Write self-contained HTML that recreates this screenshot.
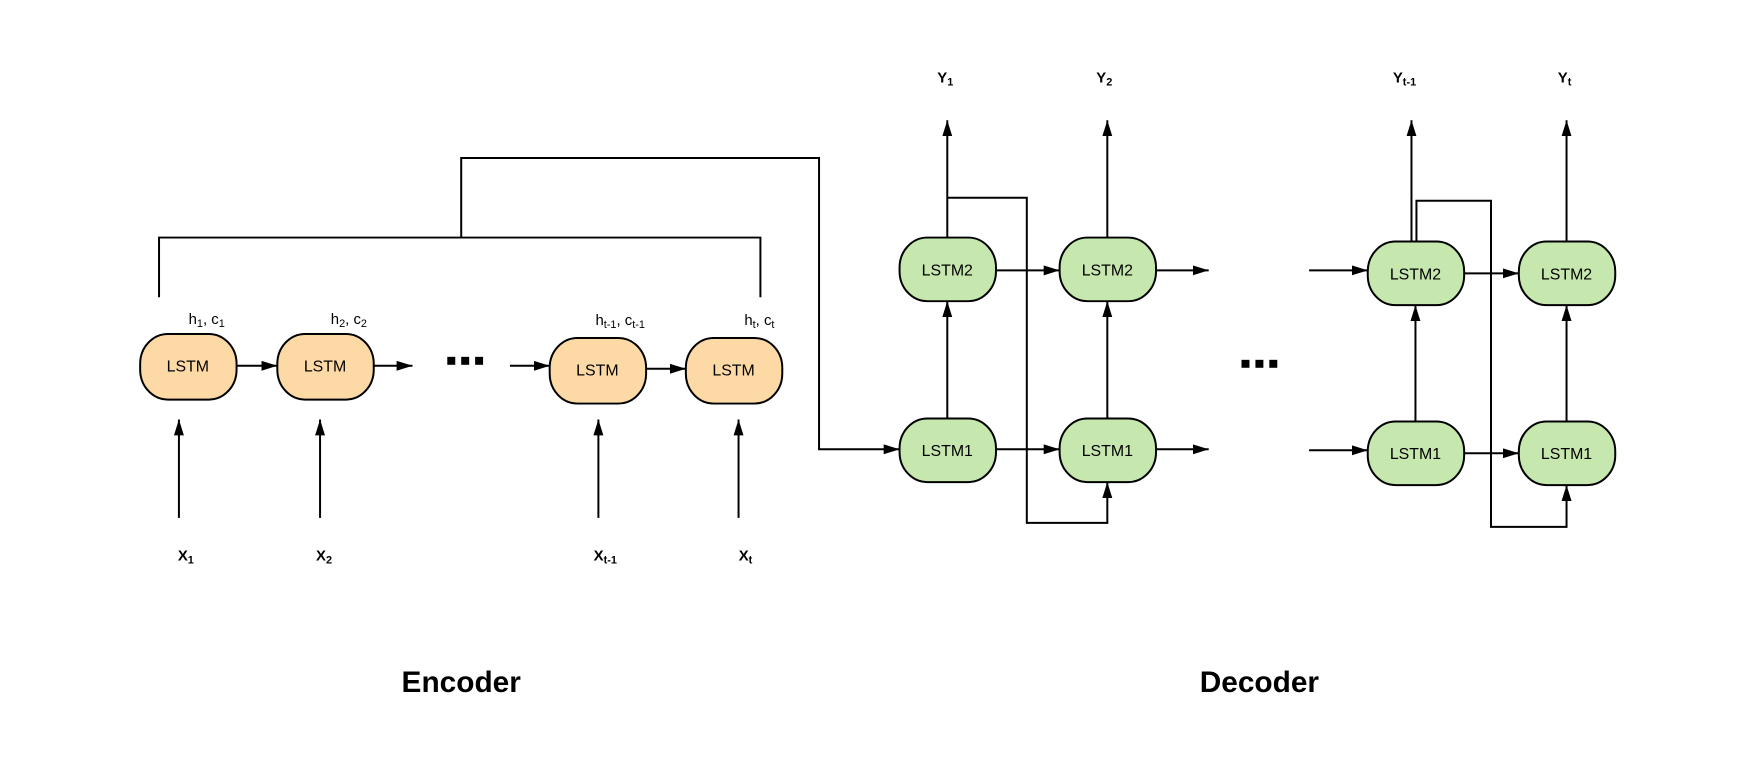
<!DOCTYPE html>
<html><head><meta charset="utf-8"><style>
body{margin:0;background:#fff}
svg{display:block}
text{font-family:"Liberation Sans",sans-serif;fill:#000}
.box text{font-size:16px}
</style></head><body>
<svg width="1760" height="762" viewBox="0 0 1760 762">
<defs>
<marker id="a" viewBox="0 0 16 10" markerWidth="16" markerHeight="10" refX="16" refY="5" orient="auto" markerUnits="userSpaceOnUse"><path d="M0,0 L16,5 L0,10 z" fill="#000"/></marker></defs>
<g transform="scale(0.994)">
<g stroke="#000" stroke-width="2" fill="none">
<g>
<rect x="141" y="336" width="97" height="66" rx="28" ry="30" fill="#fdd9a6"/>
<rect x="279" y="336" width="97" height="66" rx="28" ry="30" fill="#fdd9a6"/>
<rect x="553" y="340" width="97" height="66" rx="28" ry="30" fill="#fdd9a6"/>
<rect x="690" y="340" width="97" height="66" rx="28" ry="30" fill="#fdd9a6"/>
</g>
<g>
<rect x="905" y="239" width="97" height="64" rx="28" ry="30" fill="#c6e7ad"/>
<rect x="1066" y="239" width="97" height="64" rx="28" ry="30" fill="#c6e7ad"/>
<rect x="1376" y="243" width="97" height="64" rx="28" ry="30" fill="#c6e7ad"/>
<rect x="1528" y="243" width="97" height="64" rx="28" ry="30" fill="#c6e7ad"/>
<rect x="905" y="421" width="97" height="64" rx="28" ry="30" fill="#c6e7ad"/>
<rect x="1066" y="421" width="97" height="64" rx="28" ry="30" fill="#c6e7ad"/>
<rect x="1376" y="424" width="97" height="64" rx="28" ry="30" fill="#c6e7ad"/>
<rect x="1528" y="424" width="97" height="64" rx="28" ry="30" fill="#c6e7ad"/>
</g>
<g marker-end="url(#a)">
<line x1="238" y1="368" x2="279" y2="368"/>
<line x1="376" y1="368" x2="415" y2="368"/>
<line x1="513" y1="368" x2="553" y2="368"/>
<line x1="650" y1="371" x2="690" y2="371"/>
<line x1="180" y1="521" x2="180" y2="422"/>
<line x1="322" y1="521" x2="322" y2="422"/>
<line x1="602" y1="521" x2="602" y2="422"/>
<line x1="743" y1="521" x2="743" y2="422"/>
<polyline points="464,239 464,159 824,159 824,452 905,452"/>
<line x1="953" y1="239" x2="953" y2="121"/>
<line x1="1114" y1="239" x2="1114" y2="121"/>
<line x1="1420" y1="243" x2="1420" y2="121"/>
<line x1="1576" y1="243" x2="1576" y2="121"/>
<line x1="953" y1="421" x2="953" y2="303"/>
<line x1="1114" y1="421" x2="1114" y2="303"/>
<line x1="1424" y1="424" x2="1424" y2="307"/>
<line x1="1576" y1="424" x2="1576" y2="307"/>
<polyline points="953,199 1033,199 1033,526 1114,526 1114,485"/>
<polyline points="1425,243 1425,202 1500,202 1500,530 1576,530 1576,488"/>
<line x1="1002" y1="272" x2="1066" y2="272"/>
<line x1="1002" y1="452" x2="1066" y2="452"/>
<line x1="1163" y1="272" x2="1216" y2="272"/>
<line x1="1163" y1="452" x2="1216" y2="452"/>
<line x1="1317" y1="272" x2="1376" y2="272"/>
<line x1="1317" y1="453" x2="1376" y2="453"/>
<line x1="1473" y1="275" x2="1528" y2="275"/>
<line x1="1473" y1="456" x2="1528" y2="456"/>
</g>
<polyline points="160,299 160,239 765,239 765,299"/>
</g>
<g class="box" text-anchor="middle">
<text x="189" y="374">LSTM</text><text x="327" y="374">LSTM</text><text x="601" y="378">LSTM</text><text x="738" y="378">LSTM</text>
<text x="953" y="277">LSTM2</text><text x="1114" y="277">LSTM2</text><text x="1424" y="281">LSTM2</text><text x="1576" y="281">LSTM2</text>
<text x="953" y="459">LSTM1</text><text x="1114" y="459">LSTM1</text><text x="1424" y="462">LSTM1</text><text x="1576" y="462">LSTM1</text>
</g>
<g font-size="15" text-anchor="middle">
<text x="208" y="326">h<tspan font-size="11" dy="3">1</tspan><tspan dy="-3">, c</tspan><tspan font-size="11" dy="3">1</tspan></text>
<text x="351" y="326">h<tspan font-size="11" dy="3">2</tspan><tspan dy="-3">, c</tspan><tspan font-size="11" dy="3">2</tspan></text>
<text x="624" y="327">h<tspan font-size="11" dy="3">t-1</tspan><tspan dy="-3">, c</tspan><tspan font-size="11" dy="3">t-1</tspan></text>
<text x="764" y="327">h<tspan font-size="11" dy="3">t</tspan><tspan dy="-3">, c</tspan><tspan font-size="11" dy="3">t</tspan></text>
</g>
<g font-size="15" font-weight="bold" text-anchor="middle">
<text x="187" y="564">X<tspan font-size="11" dy="3">1</tspan></text>
<text x="326" y="564">X<tspan font-size="11" dy="3">2</tspan></text>
<text x="609" y="564">X<tspan font-size="11" dy="3">t-1</tspan></text>
<text x="750" y="564">X<tspan font-size="11" dy="3">t</tspan></text>
<text x="951" y="83">Y<tspan font-size="11" dy="3">1</tspan></text>
<text x="1111" y="83">Y<tspan font-size="11" dy="3">2</tspan></text>
<text x="1413" y="83">Y<tspan font-size="11" dy="3">t-1</tspan></text>
<text x="1574" y="83">Y<tspan font-size="11" dy="3">t</tspan></text>
</g>
<g fill="#000">
<rect x="450" y="359" width="8" height="8"/><rect x="464" y="359" width="8" height="8"/><rect x="478" y="359" width="8" height="8"/>
<rect x="1249" y="362" width="8" height="8"/><rect x="1263" y="362" width="8" height="8"/><rect x="1277" y="362" width="8" height="8"/>
</g>
<text x="464" y="696" font-size="30" font-weight="bold" text-anchor="middle">Encoder</text>
<text x="1267" y="696" font-size="30" font-weight="bold" text-anchor="middle">Decoder</text>
</g>
</svg>
</body></html>
